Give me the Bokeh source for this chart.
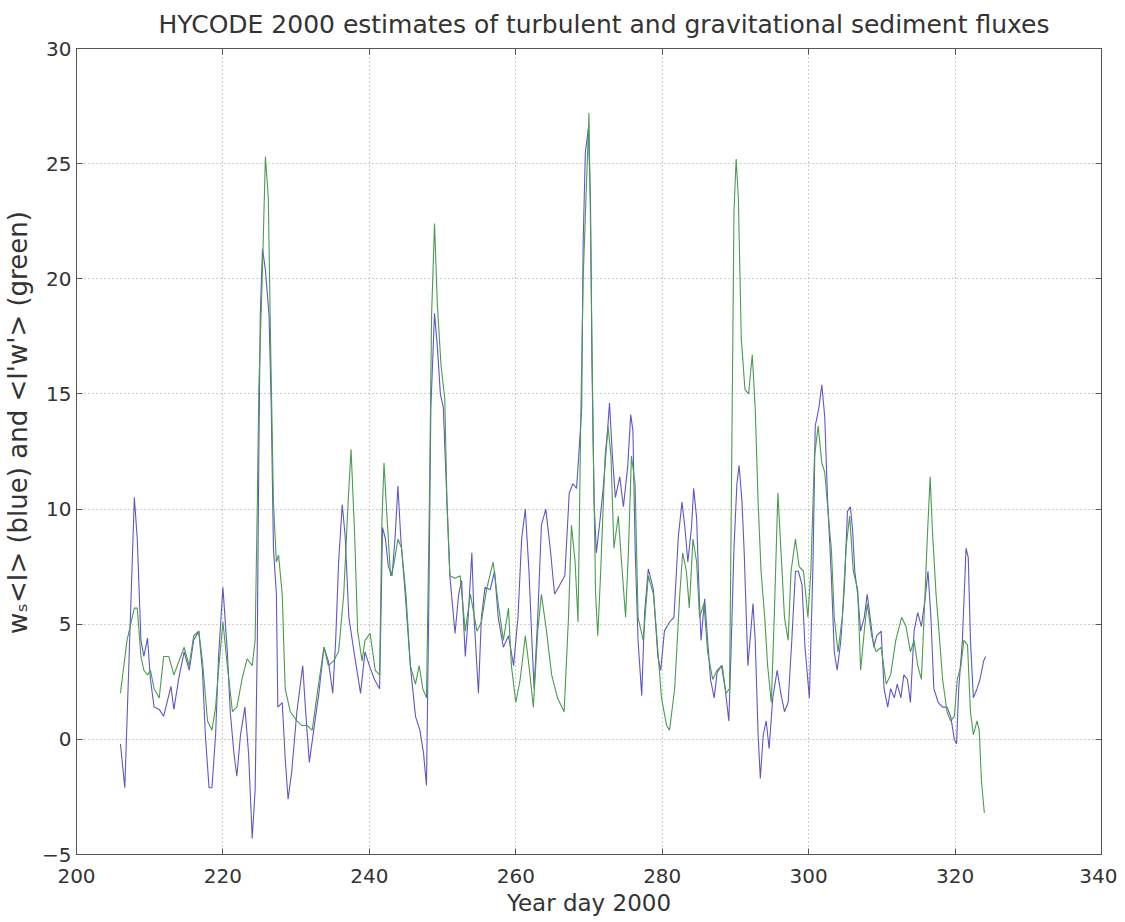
from bokeh.plotting import figure
from bokeh.models import Range1d, FixedTicker, LinearAxis, CustomLabelingPolicy
from bokeh.embed import file_html
from bokeh.resources import INLINE

blue_day = [206.0, 206.6, 207.9, 208.3, 208.8, 209.2, 209.7, 210.1, 210.6, 211.3, 211.9, 212.9, 213.3, 214.0,
            214.7, 215.4, 216.0, 216.7, 217.2, 217.6, 218.1, 218.5, 219.0, 219.4, 220.0, 220.6, 221.0, 221.5,
            221.9, 222.4, 223.0, 223.5, 224.0, 224.4, 224.7, 224.9, 225.1, 225.4, 225.8, 226.3, 226.6, 226.9,
            227.3, 227.5, 228.1, 228.5, 228.9, 229.4, 230.1, 230.9, 231.3, 231.8, 232.4, 233.1, 233.8, 234.4,
            235.0, 235.4, 235.8, 236.3, 236.7, 237.2, 237.9, 238.8, 239.4, 240.0, 240.7, 241.4, 241.8, 242.2,
            242.6, 243.1, 243.5, 243.9, 244.3, 244.9, 245.6, 246.3, 246.9, 247.4, 247.8, 248.1, 248.4, 248.9,
            249.3, 249.7, 250.1, 250.6, 251.0, 251.7, 252.2, 252.6, 253.1, 253.5, 254.0, 254.3, 254.9, 255.3,
            255.8, 256.5, 257.1, 257.6, 258.3, 259.0, 259.7, 260.3, 260.8, 261.3, 261.8, 262.2, 262.5, 263.0,
            263.5, 264.1, 264.7, 265.3, 266.0, 266.7, 267.3, 267.8, 268.3, 268.6, 269.0, 269.2, 269.5, 269.9,
            270.2, 270.4, 270.7, 271.0, 271.5, 272.0, 272.4, 272.8, 273.2, 273.6, 274.2, 274.7, 275.3, 275.7,
            276.0, 276.3, 276.7, 277.2, 277.6, 278.1, 278.8, 279.4, 279.8, 280.3, 281.0, 281.6, 282.2, 282.7,
            283.1, 283.5, 284.0, 284.3, 284.7, 285.0, 285.3, 285.8, 286.2, 286.6, 287.1, 287.5, 288.1, 288.6,
            289.1, 289.4, 289.8, 290.2, 290.5, 290.9, 291.2, 291.7, 292.1, 292.4, 292.7, 293.1, 293.4, 293.8,
            294.2, 294.6, 295.1, 295.7, 296.2, 296.7, 297.2, 297.7, 298.2, 298.6, 299.1, 299.5, 300.1, 300.6,
            300.9, 301.4, 301.8, 302.2, 302.6, 303.1, 303.5, 303.9, 304.4, 304.9, 305.3, 305.7, 306.0, 306.3,
            306.7, 307.1, 307.6, 308.0, 308.4, 308.9, 309.3, 309.9, 310.3, 310.8, 311.2, 311.7, 312.1, 312.6,
            313.0, 313.5, 313.9, 314.4, 314.9, 315.4, 315.9, 316.3, 316.7, 317.1, 317.7, 318.3, 318.9, 319.4,
            319.9, 320.2, 320.5, 321.0, 321.5, 321.8, 322.1, 322.5, 323.0, 323.4, 323.9, 324.2]
blue_val = [-0.2, -2.1, 10.5, 8.7, 4.3, 3.6, 4.4, 2.6, 1.4, 1.3, 1.0, 2.3, 1.3, 2.7,
            3.8, 3.0, 4.3, 4.7, 3.0, 0.2, -2.1, -2.1, 0.2, 3.6, 6.6, 3.8, 1.2, -0.6,
            -1.6, 0.2, 1.4, -0.6, -4.3, -2.2, 4.3, 12.3, 18.4, 21.3, 20.4, 18.4, 14.4, 8.3,
            6.3, 1.4, 1.6, -0.8, -2.6, -1.4, 1.2, 3.2, 1.2, -1.0, 0.4, 2.0, 4.0, 3.4,
            2.0, 4.3, 7.7, 10.2, 8.8, 5.3, 3.8, 2.0, 3.8, 3.2, 2.6, 2.2, 9.2, 8.7,
            7.5, 7.1, 8.7, 11.0, 8.7, 6.3, 3.2, 1.0, 0.4, -0.6, -2.0, 5.3, 14.4, 18.5,
            17.0, 15.0, 14.4, 10.3, 7.1, 4.6, 6.3, 6.9, 3.6, 5.3, 8.1, 5.3, 2.0, 5.3,
            6.6, 6.5, 7.3, 5.3, 4.0, 4.5, 3.2, 5.3, 8.7, 10.0, 7.3, 4.3, 2.2, 5.3,
            9.3, 10.0, 8.3, 6.3, 6.7, 7.1, 10.7, 11.1, 10.9, 12.3, 14.4, 21.5, 25.5, 26.5,
            23.5, 16.4, 10.3, 8.1, 9.5, 11.1, 12.8, 14.6, 12.3, 10.5, 11.4, 10.1, 11.9, 14.1,
            13.4, 8.3, 4.3, 1.9, 5.5, 7.4, 6.5, 3.6, 3.0, 4.7, 5.1, 5.3, 8.8, 10.3,
            9.2, 7.7, 9.2, 10.9, 9.6, 6.7, 4.3, 6.1, 4.3, 2.6, 1.8, 2.9, 3.2, 2.2,
            0.8, 3.8, 8.3, 11.1, 11.9, 10.3, 8.1, 3.2, 4.7, 5.9, 4.3, 0.2, -1.7, 0.2,
            0.8, -0.4, 1.8, 3.0, 2.0, 1.2, 1.6, 4.3, 7.3, 7.3, 6.7, 4.0, 1.8, 7.7,
            13.6, 14.4, 15.4, 14.0, 10.3, 7.1, 3.8, 3.0, 4.3, 6.7, 9.9, 10.1, 9.1, 7.3,
            6.3, 4.7, 5.3, 6.3, 5.3, 4.0, 4.5, 4.7, 2.2, 1.4, 2.2, 1.8, 2.4, 1.8,
            2.8, 2.6, 1.6, 4.7, 5.5, 4.9, 6.1, 7.3, 5.3, 2.2, 1.6, 1.4, 1.4, 1.0,
            0.0, -0.2, 2.2, 4.3, 8.3, 7.9, 4.3, 1.8, 2.2, 2.6, 3.4, 3.6]

green_day = [206.0, 206.9, 207.9, 208.3, 208.8, 209.2, 209.7, 210.1, 210.6, 211.3, 211.9, 212.6, 213.3, 214.0,
             214.7, 215.4, 216.0, 216.7, 217.2, 217.9, 218.5, 219.0, 219.4, 220.0, 220.6, 221.3, 221.9, 222.6,
             223.3, 224.0, 224.4, 224.7, 224.9, 225.4, 225.8, 226.2, 226.5, 226.9, 227.3, 227.6, 228.1, 228.5,
             229.2, 230.1, 230.8, 231.5, 232.2, 232.8, 233.8, 234.4, 235.1, 235.8, 236.5, 237.1, 237.5, 238.0,
             238.4, 239.0, 239.4, 240.1, 240.8, 241.4, 241.7, 242.0, 242.4, 242.9, 243.3, 243.9, 244.4, 245.0,
             245.6, 246.3, 246.8, 247.3, 247.8, 248.2, 248.5, 248.9, 249.3, 249.8, 250.3, 250.6, 251.0, 251.7,
             252.4, 253.1, 253.8, 254.7, 255.3, 256.0, 256.9, 257.6, 258.3, 259.0, 259.4, 260.0, 260.6, 261.3,
             261.8, 262.4, 263.0, 263.5, 264.2, 264.9, 265.7, 266.6, 267.2, 267.6, 268.1, 268.5, 268.9, 269.2,
             269.7, 270.0, 270.3, 270.6, 270.9, 271.2, 271.6, 272.2, 272.6, 273.0, 273.4, 274.0, 274.4, 275.0,
             275.4, 275.8, 276.3, 276.7, 277.4, 278.1, 278.8, 279.2, 279.9, 280.6, 281.0, 281.7, 282.4, 282.8,
             283.3, 283.7, 284.2, 284.7, 285.1, 285.7, 286.2, 286.9, 287.5, 288.2, 288.7, 289.2, 289.5, 289.8,
             290.1, 290.4, 290.8, 291.3, 291.8, 292.3, 292.7, 293.1, 293.5, 294.0, 294.4, 294.9, 295.3, 295.8,
             296.2, 296.7, 297.2, 297.6, 298.2, 298.7, 299.3, 299.9, 300.3, 300.8, 301.3, 301.8, 302.2, 302.8,
             303.1, 303.5, 304.0, 304.6, 305.1, 305.6, 306.1, 306.7, 307.1, 307.6, 308.0, 308.6, 309.2, 309.9,
             310.6, 311.2, 311.9, 312.7, 313.3, 313.9, 314.4, 314.9, 315.4, 315.9, 316.2, 316.6, 316.9, 317.4,
             317.8, 318.3, 318.9, 319.4, 319.9, 320.3, 320.8, 321.2, 321.7, 322.1, 322.5, 323.0, 323.3, 323.6,
             324.0]
green_val = [2.0, 4.3, 5.7, 5.7, 3.6, 3.0, 2.8, 3.0, 2.2, 1.8, 3.6, 3.6, 2.8, 3.4,
             4.0, 3.2, 4.5, 4.7, 3.4, 0.8, 0.4, 1.4, 3.0, 5.1, 3.2, 1.2, 1.4, 2.6,
             3.5, 3.2, 4.3, 10.3, 15.2, 20.4, 25.3, 23.5, 17.4, 10.3, 7.7, 8.0, 6.3, 2.2,
             1.2, 0.8, 0.6, 0.6, 0.4, 1.8, 4.0, 3.2, 3.4, 3.8, 6.3, 10.3, 12.6, 8.8,
             4.7, 3.4, 4.3, 4.6, 3.0, 2.8, 9.3, 12.0, 9.7, 7.1, 7.5, 8.7, 8.3, 6.3,
             3.2, 2.4, 3.2, 2.2, 1.8, 10.3, 18.4, 22.4, 18.8, 16.2, 14.8, 10.3, 7.1, 7.0,
             7.1, 4.7, 6.3, 4.7, 5.1, 6.5, 7.7, 5.9, 4.3, 5.7, 3.2, 1.6, 2.6, 4.5,
             3.2, 1.4, 4.7, 6.3, 4.7, 2.8, 1.8, 1.2, 5.3, 9.3, 7.7, 5.1, 14.4, 20.0,
             24.5, 27.2, 20.0, 12.3, 6.3, 4.5, 7.3, 12.3, 13.6, 12.3, 8.3, 9.7, 7.9, 5.3,
             8.3, 12.3, 11.1, 5.3, 4.3, 7.1, 6.3, 4.7, 1.8, 0.6, 0.4, 2.2, 6.3, 8.1,
             7.3, 5.7, 8.7, 7.7, 5.3, 5.9, 3.8, 2.6, 3.0, 3.2, 2.0, 2.2, 12.3, 22.9,
             25.2, 23.5, 17.4, 15.2, 15.0, 16.7, 14.4, 10.3, 7.3, 5.3, 3.2, 1.6, 5.3, 10.7,
             8.3, 5.3, 4.3, 7.3, 8.7, 7.5, 7.3, 5.3, 7.3, 12.3, 13.6, 12.0, 11.6, 9.3,
             8.3, 5.3, 3.8, 5.3, 8.3, 9.7, 7.3, 6.5, 3.0, 4.7, 5.9, 4.5, 3.8, 4.0,
             2.4, 2.8, 4.3, 5.3, 4.9, 3.8, 4.3, 3.2, 2.6, 6.3, 8.7, 11.4, 9.1, 6.3,
             4.7, 2.6, 1.2, 0.8, 1.0, 2.6, 3.2, 4.3, 4.1, 1.2, 0.2, 0.8, 0.4, -1.8,
             -3.2]

x_ticks = [200, 220, 240, 260, 280, 300, 320, 340]
y_ticks = [-5, 0, 5, 10, 15, 20, 25, 30]

title_text = "HYCODE 2000 estimates of turbulent and gravitational sediment fluxes"
x_label = "Year day 2000"
y_label = "\u00a0" * 7 + "w\u209b<I> (blue) and <I'w'> (green)"

FONT = "DejaVu Sans"
AXC = "#555555"

p = figure(width=1117, height=922, output_backend="svg", toolbar_location=None,
           x_range=Range1d(200, 340), y_range=Range1d(-5, 30),
           title=title_text)
p.min_border_left = 74
p.min_border_right = 16
p.min_border_top = 48
p.min_border_bottom = 68

p.title.align = "left"
p.title.offset = 82
p.title.vertical_align = "top"
p.title.text_font = FONT
p.title.text_font_size = "25px"
p.title.text_font_style = "normal"
p.title.text_color = "#333333"
p.title.standoff = 0

p.line(blue_day, blue_val, line_color="#5e58c4", line_width=1.1)
p.line(green_day, green_val, line_color="#4a9c50", line_width=1.1)

for ax in (p.xaxis[0], p.yaxis[0]):
    ax.major_label_text_font = FONT
    ax.major_label_text_font_size = "20px"
    ax.major_label_text_color = "#333333"
    ax.axis_label_text_font = FONT
    ax.axis_label_text_font_style = "normal"
    ax.axis_label_text_color = "#333333"
    ax.major_tick_in = 6
    ax.major_tick_out = 0
    ax.minor_tick_in = 0
    ax.minor_tick_out = 0
    ax.axis_line_color = AXC
    ax.major_tick_line_color = AXC

p.xaxis.axis_label_text_font_size = "23px"
p.yaxis.axis_label_text_font_size = "26px"
p.xaxis.ticker = FixedTicker(ticks=x_ticks)
p.yaxis.ticker = FixedTicker(ticks=y_ticks)
p.xaxis.axis_label = x_label
p.yaxis.axis_label = y_label
p.xaxis.major_label_standoff = 14
p.yaxis.major_label_standoff = 5
p.xaxis.axis_label_standoff = 4
p.yaxis.axis_label_standoff = 6

# tick marks on the top and right edges of the box (labels suppressed)
hide_all = "for (const i of indices) { indices.unset(i) }\nreturn indices"
top_ax = LinearAxis(ticker=FixedTicker(ticks=x_ticks),
                    major_label_policy=CustomLabelingPolicy(code=hide_all),
                    major_label_text_font_size="8px",
                    major_label_standoff=0, major_tick_in=6, major_tick_out=0,
                    minor_tick_in=0, minor_tick_out=0, axis_line_color=AXC,
                    major_tick_line_color=AXC)
right_ax = LinearAxis(ticker=FixedTicker(ticks=y_ticks),
                      major_label_policy=CustomLabelingPolicy(code=hide_all),
                      major_label_text_font_size="8px",
                      major_label_standoff=0, major_tick_in=6, major_tick_out=0,
                      minor_tick_in=0, minor_tick_out=0, axis_line_color=AXC,
                      major_tick_line_color=AXC)
p.add_layout(top_ax, "above")
p.add_layout(right_ax, "right")

p.xgrid.ticker = FixedTicker(ticks=x_ticks)
p.ygrid.ticker = FixedTicker(ticks=y_ticks)
p.grid.grid_line_color = "#9a9a9a"
p.grid.grid_line_dash = "1 3"
p.grid.grid_line_width = 1

p.outline_line_color = AXC
p.outline_line_width = 1
p.background_fill_color = "white"
p.border_fill_color = "white"

open("out.html", "w").write(file_html(p, INLINE))
